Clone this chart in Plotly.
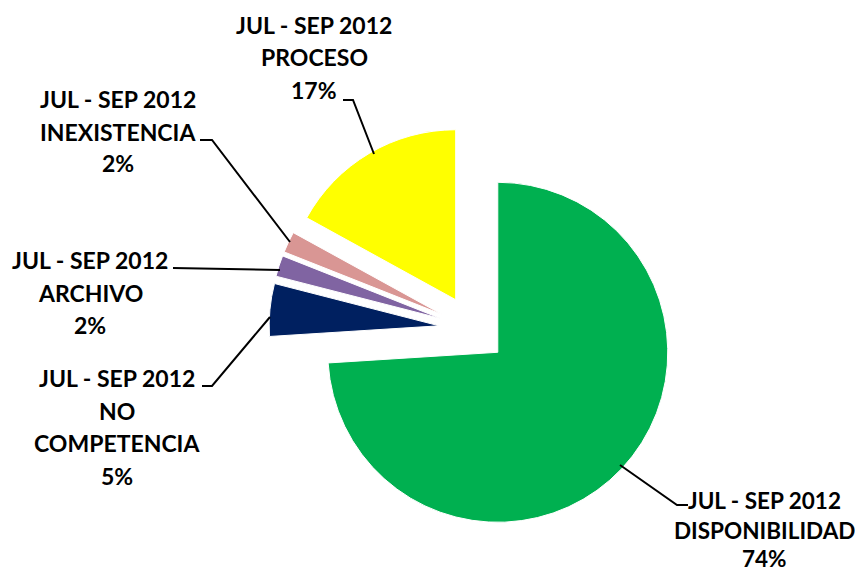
import plotly.graph_objects as go

# The page body adds an 8px margin; the figure is sized to fit the window.
OFF = 8
W, H = 863 - OFF, 571 - OFF

periodo = "JUL - SEP 2012"
categorias = [["DISPONIBILIDAD"], ["NO", "COMPETENCIA"], ["ARCHIVO"], ["INEXISTENCIA"], ["PROCESO"]]
valores = [74, 5, 2, 2, 17]
porcentajes = ["74%", "5%", "2%", "2%", "17%"]
colores = ["#00B050", "#002060", "#8064A2", "#D99694", "#FFFF00"]

# label line positions (window pixels): x center, y of each text line
label_x = [764, 117, 90, 118, 314]
label_y = [[500, 530, 558], [378, 411, 443, 476], [260, 293, 325], [99, 132, 163], [25, 57, 90]]
leaders = [
    [(688, 505), (677, 505), (620, 465)],
    [(202, 386), (212, 386), (270, 317)],
    [(173, 268), (280, 270)],
    [(200, 140), (212, 140), (290, 242)],
    [(343, 100), (353, 100), (374, 154)],
]

def px(x):
    return (x - OFF) / W

def py(y):
    return 1 - (y - OFF) / H

fig = go.Figure(go.Pie(
    values=valores,
    labels=[" ".join(c) for c in categorias],
    marker=dict(colors=colores, line=dict(color="white", width=1)),
    sort=False,
    direction="clockwise",
    rotation=0,
    pull=[0.2] * len(valores),
    textinfo="none",
    hoverinfo="label+percent",
    domain=dict(x=[px(269), px(677)], y=[py(533), py(125)]),
    showlegend=False,
))

for i, (cat, pct, x, ys) in enumerate(zip(categorias, porcentajes, label_x, label_y)):
    lines = [periodo] + cat + [pct]
    for t, y in zip(lines, ys):
        fig.add_annotation(
            x=px(x), y=py(y), xref="paper", yref="paper",
            text=f"<b>{t}</b>",
            showarrow=False, xanchor="center", yanchor="middle", align="center",
            font=dict(family="Lato", size=22.5 if i == 0 else 23, color="black"),
        )

for pts in leaders:
    path = "M " + " L ".join(f"{px(x)},{py(y)}" for x, y in pts)
    fig.add_shape(type="path", path=path, xref="paper", yref="paper",
                  line=dict(color="black", width=2))

fig.update_layout(
    width=W, height=H,
    margin=dict(l=0, r=0, t=0, b=0),
    paper_bgcolor="white", plot_bgcolor="white",
)

fig.write_html("out.html")
